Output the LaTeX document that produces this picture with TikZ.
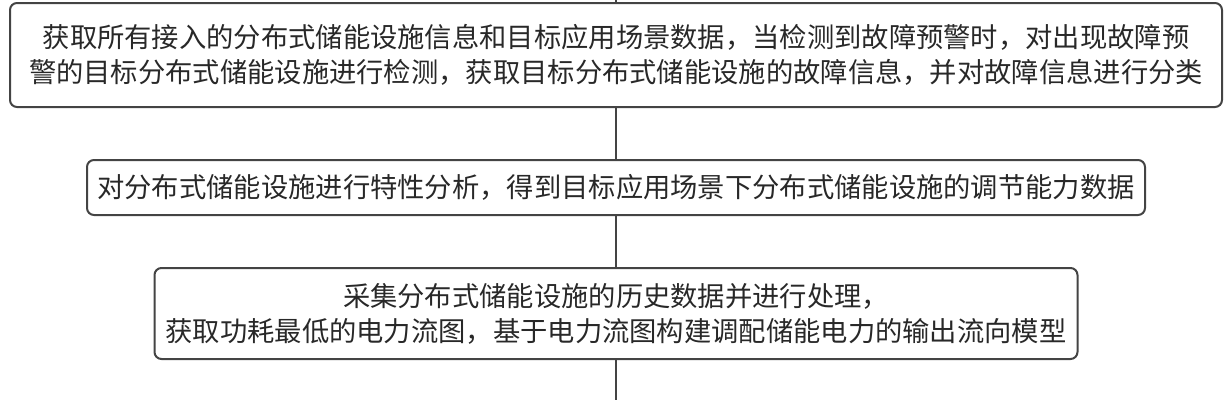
\documentclass[tikz,border=0pt]{standalone}
\usepackage{fontspec}
\usepackage{tikz}
\usetikzlibrary{positioning}
\newfontfamily\cjkfont{Noto Sans CJK SC}
\definecolor{boxline}{RGB}{68,68,68}
\definecolor{boxtext}{RGB}{40,40,40}
\tikzstyle{stepbox} = [rectangle, draw=boxline, line width=2pt, rounded corners=7pt,
    text=boxtext, align=center, inner sep=0pt,
    font=\cjkfont\fontsize{27.3}{35}\selectfont]
\tikzstyle{line} = [draw=boxline, line width=2pt]

\begin{document}
\begin{tikzpicture}[x=1pt, y=-1pt, node distance = 51pt]
    \useasboundingbox (0,0) rectangle (1231,400);
    % Place nodes
    % Steps
    \node [stepbox, minimum width=1212pt, minimum height=104pt] (fetch) at (616,55)
        {获取所有接入的分布式储能设施信息和目标应用场景数据，当检测到故障预警时，对出现故障预\\
         警的目标分布式储能设施进行检测，获取目标分布式储能设施的故障信息，并对故障信息进行分类};
    \node [stepbox, below=of fetch, minimum width=1058pt, minimum height=55pt] (analyse)
        {对分布式储能设施进行特性分析，得到目标应用场景下分布式储能设施的调节能力数据};
    \node [stepbox, below=of analyse, minimum width=923pt, minimum height=91pt] (model)
        {采集分布式储能设施的历史数据并进行处理，\\
         获取功耗最低的电力流图，基于电力流图构建调配储能电力的输出流向模型};

    % Loose ends
    \coordinate (in) at (616,0);
    \coordinate (out) at (616,400);

    % Draw edges
    \path [line] (in) -- (fetch);
    \path [line] (fetch) -- (analyse);
    \path [line] (analyse) -- (model);
    \path [line] (model) -- (out);

\end{tikzpicture}
\end{document}
